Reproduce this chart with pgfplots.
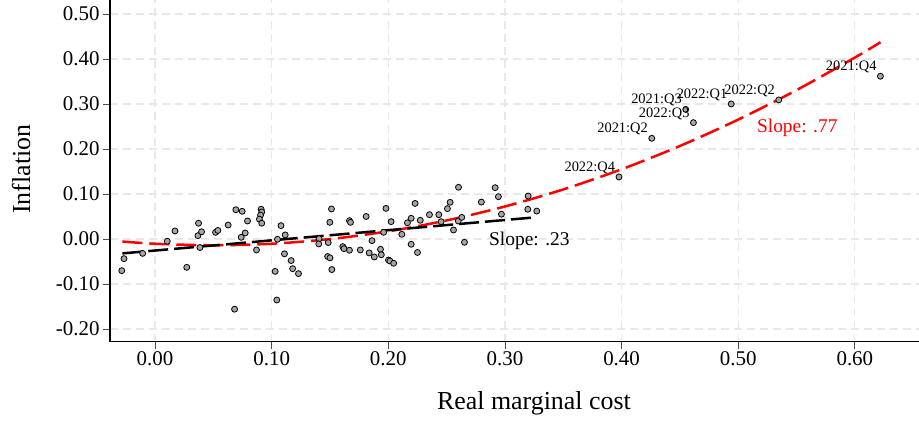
\documentclass[border=0pt]{standalone}
\usepackage{fontspec}
\setmainfont{Liberation Serif}
\usepackage{pgfplots}
\usepackage{pgfplotstable}
\pgfplotsset{compat=1.18}
\definecolor{ptfill}{RGB}{165,165,165}
\definecolor{gridc}{RGB}{232,232,232}

% Quarterly observations: real marginal cost vs. inflation
\pgfplotstableread{
x y
-0.0285 -0.0704
-0.0266 -0.0437
-0.0106 -0.0320
0.0105 -0.0050
0.0171 0.0178
0.0272 -0.0630
0.0373 0.0350
0.0368 0.0074
0.0399 0.0160
0.0385 -0.0190
0.0519 0.0148
0.0539 0.0190
0.0627 0.0310
0.0693 0.0650
0.0747 0.0615
0.0793 0.0400
0.0773 0.0133
0.0739 0.0037
0.0682 -0.1560
0.0870 -0.0244
0.0910 0.0660
0.0915 0.0600
0.0905 0.0530
0.0895 0.0440
0.0915 0.0350
0.1080 0.0296
0.1116 0.0090
0.1050 -0.0007
0.1110 -0.0330
0.1030 -0.0720
0.1167 -0.0480
0.1180 -0.0660
0.1230 -0.0770
0.1044 -0.1356
0.1513 0.0667
0.1499 0.0370
0.1407 0.0007
0.1404 -0.0110
0.1485 -0.0080
0.1480 -0.0390
0.1500 -0.0420
0.1516 -0.0680
0.1667 0.0407
0.1676 0.0370
0.1610 -0.0170
0.1620 -0.0215
0.1667 -0.0250
0.1760 -0.0244
0.1810 0.0500
0.1860 -0.0037
0.1836 -0.0310
0.1880 -0.0400
0.1933 -0.0229
0.1940 -0.0350
0.1980 0.0680
0.2024 0.0385
0.1960 0.0148
0.2002 -0.0467
0.2014 -0.0489
0.2046 -0.0540
0.2116 0.0104
0.2164 0.0360
0.2196 0.0460
0.2230 0.0790
0.2196 -0.0118
0.2250 -0.0300
0.2274 0.0415
0.2353 0.0540
0.2433 0.0540
0.2453 0.0385
0.2507 0.0674
0.2530 0.0815
0.2602 0.1148
0.2559 0.0200
0.2600 0.0400
0.2630 0.0480
0.2653 -0.0074
0.2798 0.0820
0.2916 0.1140
0.2944 0.0940
0.2970 0.0550
0.3199 0.0955
0.3196 0.0660
0.3273 0.0620
}\histdata

% Recent quarters, labelled
\pgfplotstableread{
x y lab
0.3978 0.1378 2022:Q4
0.4259 0.2237 2021:Q2
0.4550 0.2880 2021:Q3
0.4616 0.2585 2022:Q3
0.4940 0.3000 2022:Q1
0.5348 0.3090 2022:Q2
0.6219 0.3616 2021:Q4
}\recentdata

\begin{document}
\begin{tikzpicture}
\begin{axis}[
  name=ax,
  scale only axis, width=809bp, height=341.5bp,
  xmin=-0.0386, xmax=0.655, ymin=-0.2278, ymax=0.531,
  axis lines*=left,
  axis line style={line width=1.6bp, black},
  xtick={0,0.1,0.2,0.3,0.4,0.5,0.6},
  ytick={-0.2,-0.1,0,0.1,0.2,0.3,0.4,0.5},
  tick align=outside, major tick length=7bp,
  tick style={line width=0.8bp, black!70},
  grid=major,
  major grid style={gridc, line width=1.2bp, dash pattern=on 8bp off 5bp},
  /pgf/number format/fixed,
  /pgf/number format/fixed zerofill,
  /pgf/number format/precision=2,
  /pgf/number format/assume math mode=true,
  tick label style={font=\fontsize{21}{24}\selectfont},
  label style={font=\fontsize{26}{30}\selectfont},
  xlabel={Real marginal cost},
  ylabel={Inflation},
  xlabel style={at={(axis description cs:0.524,-0.180)}, anchor=center},
  ylabel style={at={(axis description cs:-0.110,0.505)}, anchor=center},
]
% quadratic fit
\addplot[red, line width=2.5bp, dash pattern=on 20bp off 7bp, smooth] coordinates {
  (-0.028,-0.0056) (0.0,-0.0106) (0.05,-0.0140) (0.10,-0.0106) (0.15,-0.0002)
  (0.20,0.0170) (0.25,0.0412) (0.30,0.0722) (0.35,0.1101) (0.40,0.1549)
  (0.45,0.2066) (0.50,0.2653) (0.55,0.3308) (0.60,0.4031) (0.622,0.4372)
};
% linear fit on the pre-2021 sample
\addplot[black, line width=2.5bp, dash pattern=on 20bp off 6bp] coordinates {
  (-0.028,-0.0320) (0.3257,0.0480)
};
\addplot[only marks, mark=*, mark size=3bp,
  mark options={fill=ptfill, draw=black, line width=0.8bp}] table[x=x, y=y] {\histdata};
\addplot[only marks, mark=*, mark size=3bp,
  mark options={fill=ptfill, draw=black, line width=0.8bp},
  nodes near coords, point meta=explicit symbolic,
  every node near coord/.append style={anchor=base east, inner sep=0pt,
    xshift=-3.5bp, yshift=5.5bp, black, font=\fontsize{14.5}{16}\selectfont}]
  table[x=x, y=y, meta=lab] {\recentdata};
\node[red, anchor=west, inner sep=0pt, font=\fontsize{19.5}{22}\selectfont]
  at (axis cs:0.516,0.246) {Slope: .77};
\node[black, anchor=west, inner sep=0pt, font=\fontsize{19.5}{22}\selectfont]
  at (axis cs:0.2863,-0.0038) {Slope: .23};
\end{axis}
\pgfresetboundingbox
\path ([xshift=-110bp,yshift=-79.5bp]ax.south west) rectangle (ax.north east);
\end{tikzpicture}
\end{document}
